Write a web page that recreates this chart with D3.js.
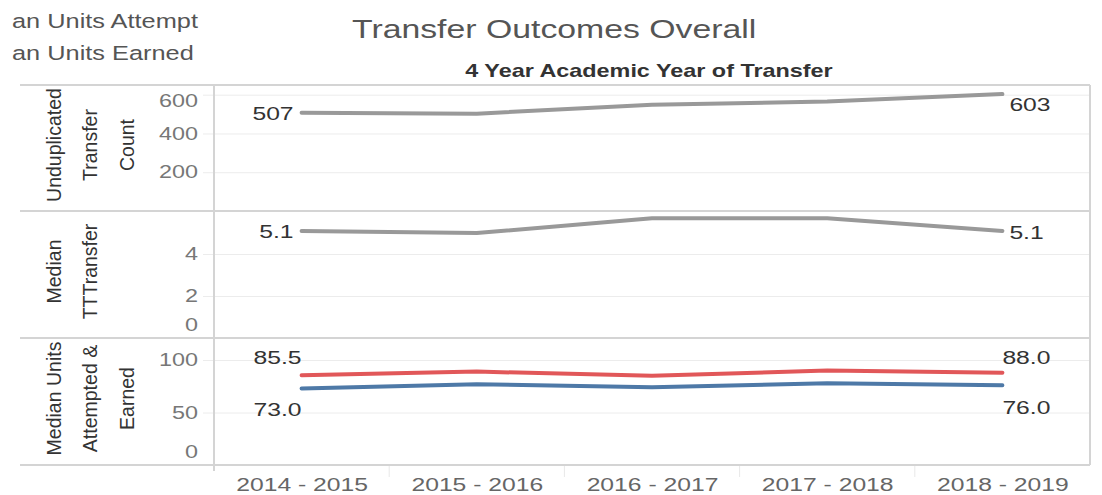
<!DOCTYPE html>
<html lang="en">
<head>
<meta charset="utf-8">
<title>Transfer Outcomes Overall</title>
<script src="https://d3js.org/d3.v7.min.js"></script>
<style>
  body { margin: 0; background: #fff; }
  text { font-family: "Liberation Sans", Arial, sans-serif; }
</style>
</head>
<body>
<script>
// data
var years = ["2014 - 2015", "2015 - 2016", "2016 - 2017", "2017 - 2018", "2018 - 2019"];
var transferCount = [507, 502, 548, 565, 603];
var medianTTT = [5.1, 5.0, 5.7, 5.7, 5.1];
var unitsAttempted = [85.5, 89.0, 85.0, 90.0, 88.0];
var unitsEarned = [73.0, 77.0, 74.0, 78.0, 76.0];
var countTicks = [200, 400, 600];
var tttTicks = [0, 2, 4];
var unitsTicks = [0, 50, 100];

var w = 1102, h = 495;
var left = 214, right = 1090;
var sx = 1.3; // the reference text is drawn wide

var svg = d3.select("body").append("svg").attr("width", w).attr("height", h);

var xBand = d3.scaleBand().domain(years).range([left, right]);
var x = d3.scalePoint().domain(years).range([left, right]).padding(0.5);

// panels
var panels = [
  { top: 85, bottom: 211, domain: [0, 650], ticks: countTicks, fmt: d3.format("d"),
    title: ["Unduplicated", "Transfer", "Count"], series: [{ values: transferCount, color: "#999999" }] },
  { top: 211, bottom: 338, domain: [0, 6.05], ticks: tttTicks, fmt: d3.format(".1f"),
    title: ["Median", "TTTransfer"], series: [{ values: medianTTT, color: "#999999" }] },
  { top: 338, bottom: 465, domain: [0, 121], ticks: unitsTicks, fmt: d3.format(".1f"),
    title: ["Median Units", "Attempted &", "Earned"],
    series: [{ values: unitsAttempted, color: "#e15759", pos: "above" },
             { values: unitsEarned, color: "#4e79a7", pos: "below" }] }
];

function wideText(g, tx, ty, str, size, anchor) {
  return g.append("text")
    .attr("transform", "translate(" + tx + "," + ty + ") scale(" + sx + ",1)")
    .attr("text-anchor", anchor || "start")
    .style("font-size", size + "px")
    .text(str);
}

panels.forEach(function(p) {
  var y = d3.scaleLinear().domain(p.domain).range([p.bottom, p.top]);

  // gridlines + tick labels
  var ax = svg.append("g").attr("transform", "translate(203,0)")
    .call(d3.axisLeft(y).tickValues(p.ticks).tickFormat(d3.format("d"))
      .tickSize(-(right - 203)).tickPadding(0));
  ax.select(".domain").remove();
  ax.selectAll(".tick line").attr("stroke", "#ececec").attr("stroke-width", 1)
    .style("display", function(d) { return y(d) > p.bottom - 2 ? "none" : null; });
  ax.selectAll(".tick text")
    .attr("x", -5 / sx)
    .attr("transform", function(d) {
      var yy = y(d), shift = 0;
      if (yy < p.top + 16) shift = p.top + 16 - yy;
      if (yy > p.bottom - 13) shift = p.bottom - 13 - yy;
      return "translate(0," + shift + ") scale(" + sx + ",1)";
    })
    .attr("fill", "#777")
    .style("font-size", "18px")
    .style("font-family", "'Liberation Sans', Arial, sans-serif");

  // lines
  var line = d3.line().x(function(d, i) { return x(years[i]); }).y(function(d) { return y(d); });
  p.series.forEach(function(s) {
    svg.append("path").datum(s.values)
      .attr("d", line)
      .attr("fill", "none")
      .attr("stroke", s.color)
      .attr("stroke-width", 4)
      .attr("stroke-linecap", "round")
      .attr("stroke-linejoin", "round");

    var first = s.values[0], last = s.values[s.values.length - 1];
    var x0 = x(years[0]), x1 = x(years[years.length - 1]);
    var lbl = svg.append("g").attr("fill", "#333");
    if (s.pos === "above") {
      wideText(lbl, x0, y(first) - 11, p.fmt(first), 19, "end");
      wideText(lbl, x1, y(last) - 9, p.fmt(last), 19, "start");
    } else if (s.pos === "below") {
      wideText(lbl, x0, y(first) + 28, p.fmt(first), 19, "end");
      wideText(lbl, x1, y(last) + 29, p.fmt(last), 19, "start");
    } else {
      wideText(lbl, x0 - 8, y(first) + 7, p.fmt(first), 19, "end");
      wideText(lbl, x1 + 7, y(last) + (last === d3.max(s.values) && p.top === 85 ? 17 : 8), p.fmt(last), 19, "start");
    }
  });

  // rotated row title
  var cy = (p.top + p.bottom) / 2 - 3;
  p.title.forEach(function(t, i) {
    svg.append("text")
      .attr("transform", "translate(" + (54 + i * 36.5) + "," + cy + ") rotate(-90)")
      .attr("text-anchor", "middle")
      .attr("dy", "0.35em")
      .attr("fill", "#333")
      .style("font-size", "19.5px")
      .text(t);
  });
});

// frame
var frame = svg.append("g").attr("stroke", "#d4d4d4").attr("stroke-width", 2);
[85, 211, 338, 465].forEach(function(yy) {
  frame.append("line").attr("x1", 20).attr("x2", right).attr("y1", yy).attr("y2", yy);
});
frame.append("line").attr("x1", left).attr("x2", left).attr("y1", 85).attr("y2", 471);
frame.append("line").attr("x1", right).attr("x2", right).attr("y1", 85).attr("y2", 465);

// x axis
svg.append("g").selectAll("line").data(years.slice(1)).enter().append("line")
  .attr("x1", function(d) { return xBand(d); })
  .attr("x2", function(d) { return xBand(d); })
  .attr("y1", 466).attr("y2", 477)
  .attr("stroke", "#e8e8e8");

var xa = svg.append("g").attr("transform", "translate(0,465)")
  .call(d3.axisBottom(x).tickSize(0).tickPadding(13));
xa.select(".domain").remove();
xa.selectAll(".tick text")
  .attr("transform", "scale(" + sx + ",1)")
  .attr("fill", "#666")
  .style("font-size", "19px")
  .style("font-family", "'Liberation Sans', Arial, sans-serif");

// titles
var titles = svg.append("g");
wideText(titles.append("g").attr("fill", "#555"), 352, 38, "Transfer Outcomes Overall", 26, "start");
wideText(titles.append("g").attr("fill", "#333").style("font-weight", "bold"),
  (left + right) / 2 - 3, 77, "4 Year Academic Year of Transfer", 18, "middle");

// clipped legend text in the corner
var legend = svg.append("g").attr("fill", "#555");
wideText(legend, 12, 28, "an Units Attempt", 19.5, "start");
wideText(legend, 12, 60, "an Units Earned", 19.5, "start");
</script>
</body>
</html>
